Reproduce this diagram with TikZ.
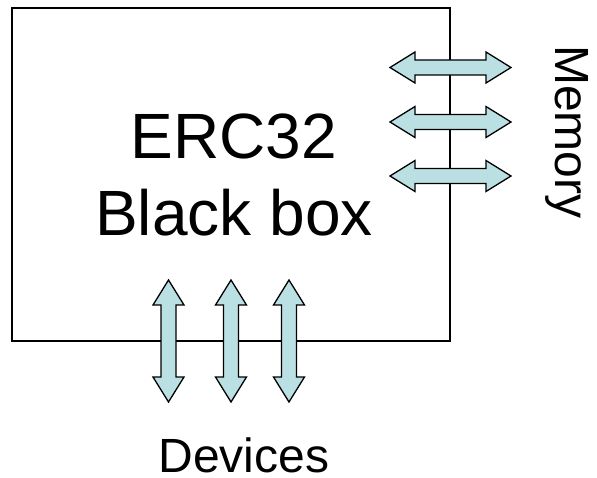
\documentclass[tikz,border=0pt]{standalone}
\usepackage{fontspec}
\setmainfont{Liberation Sans}
\definecolor{arrfill}{RGB}{187,224,228}
\begin{document}
\begin{tikzpicture}[x=1pt,y=-1pt,
  boxline/.style={draw=black,line width=1.3pt},
  dblarrow/.style={draw=black,line width=1.3pt,fill=arrfill,line join=miter},
  lbl/.style={inner sep=0pt,text=black}]
\useasboundingbox (0,0) rectangle (597,478);
\draw[boxline] (12,8) rectangle (450,341);
\node[lbl,font=\fontsize{64}{77}\selectfont,align=center] (title) at (234,175) {ERC32\\Black box};
% memory arrows (horizontal)
\foreach \yy in {67.5,122,176}{
  \draw[dblarrow] (390,\yy) -- (415,\yy-15.5) -- (415,\yy-7.5) -- (486,\yy-7.5) -- (486,\yy-15.5)
     -- (511,\yy) -- (486,\yy+15.5) -- (486,\yy+7.5) -- (415,\yy+7.5) -- (415,\yy+15.5) -- cycle;
}
% device arrows (vertical)
\foreach \xx in {168.5,231,289}{
  \draw[dblarrow] (\xx,280) -- (\xx+15.5,305) -- (\xx+7.5,305) -- (\xx+7.5,377) -- (\xx+15.5,377)
     -- (\xx,402) -- (\xx-15.5,377) -- (\xx-7.5,377) -- (\xx-7.5,305) -- (\xx-15.5,305) -- cycle;
}
\node[lbl,font=\fontsize{48}{58}\selectfont,rotate=-90,anchor=base] (mem) at (555,132) {Memory};
\node[lbl,font=\fontsize{48}{58}\selectfont,anchor=base] (dev) at (244,472) {Devices};
\end{tikzpicture}
\end{document}
